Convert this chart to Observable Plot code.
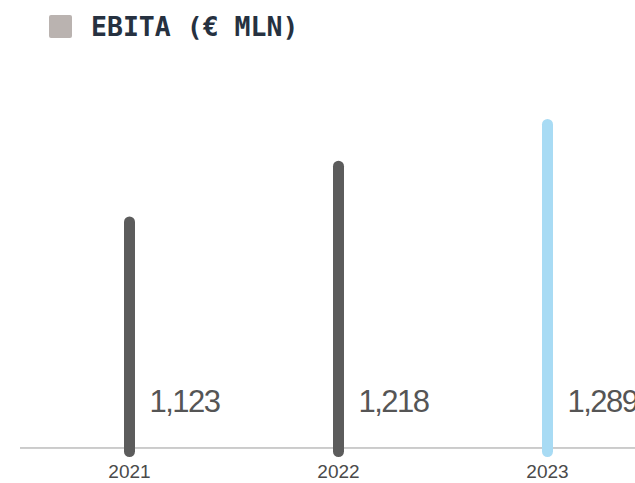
<!DOCTYPE html>
<html>
<head>
<meta charset="utf-8">
<script src="https://cdn.jsdelivr.net/npm/d3@7"></script>
<script src="https://cdn.jsdelivr.net/npm/@observablehq/plot@0.6"></script>
<style>
  html, body { margin: 0; padding: 0; background: #fff; overflow: hidden; width: 635px; height: 483px; }
  #title { position: relative; height: 52px; }
  #title .sq { position: absolute; left: 49px; top: 15px; width: 23px; height: 23px; background: #bab3b0; border-radius: 2px; }
  #title .tx { position: absolute; left: 91px; top: 13px; font-family: "DejaVu Sans Mono", monospace; font-weight: bold; font-size: 26.5px; line-height: 27px; color: #263140; white-space: nowrap; }
</style>
</head>
<body>
<div id="title"><div class="sq"></div><div class="tx">EBITA (€ MLN)</div></div>
<div id="chart"></div>
<script>
const years = ["2021", "2022", "2023"];
const values = [1123, 1218, 1289];
const labels = ["1,123", "1,218", "1,289"];
const colors = ["#5c5c5c", "#5c5c5c", "#a8dbf4"];

const data = years.map((y, i) => ({year: y, value: values[i], label: labels[i], color: colors[i]}));
const base = 739;   // visual baseline of the axis
const barStart = 732; // bars begin just below the baseline

const plot = Plot.plot({
  width: 635,
  height: 431,
  marginLeft: 20,
  marginRight: 0,
  marginTop: 66,
  marginBottom: 31.4,
  x: {type: "point", domain: years, range: [129, 547], padding: 0, label: null},
  y: {domain: [barStart, 1300], axis: null},
  marks: [
    Plot.ruleY([base], {stroke: "#9a9a9a", strokeWidth: 1}),
    Plot.ruleX(data, {x: "year", y1: barStart, y2: "value", stroke: "color", strokeWidth: 11, strokeLinecap: "round"}),
    Plot.text(data, {x: "year", text: "label", frameAnchor: "bottom", dy: -40.5, dx: 20, textAnchor: "start", lineAnchor: "bottom", fontSize: 31, fill: "#555555", fontFamily: "Liberation Sans, Arial, sans-serif"}),
    Plot.axisX({tickSize: 0, tickPadding: 12, fontSize: 19, fill: "#4a4a4a", fontFamily: "Liberation Sans, Arial, sans-serif", label: null})
  ]
});
document.getElementById("chart").appendChild(plot);
d3.select(plot).selectAll("g[aria-label='text'] text").style("letter-spacing", "-1.5px");
</script>
</body>
</html>
